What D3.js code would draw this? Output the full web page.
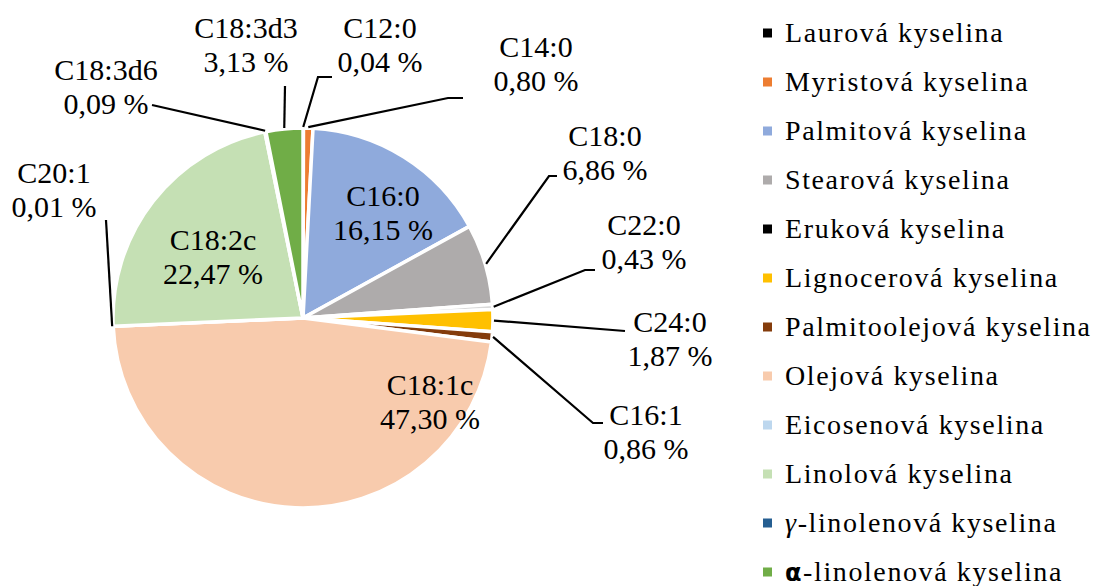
<!DOCTYPE html>
<html>
<head>
<meta charset="utf-8">
<script src="https://cdn.jsdelivr.net/npm/d3@7"></script>
<style>
  body { margin: 0; background: #fff; }
  svg { display: block; }
  text { font-family: "Liberation Serif", "Times New Roman", serif; fill: #000; }
</style>
</head>
<body>
<svg id="chart" width="1094" height="586"></svg>
<script>
// fatty acid composition (% of total)
const acids = ["Laurová kyselina", "Myristová kyselina", "Palmitová kyselina", "Stearová kyselina",
  "Eruková kyselina", "Lignocerová kyselina", "Palmitoolejová kyselina", "Olejová kyselina",
  "Eicosenová kyselina", "Linolová kyselina", "γ-linolenová kyselina", "α-linolenová kyselina"];
const codes = ["C12:0", "C14:0", "C16:0", "C18:0", "C22:0", "C24:0", "C16:1", "C18:1c",
  "C20:1", "C18:2c", "C18:3d6", "C18:3d3"];
const shares = [0.04, 0.80, 16.15, 6.86, 0.43, 1.87, 0.86, 47.30, 0.01, 22.47, 0.09, 3.13];

const legendColors = ["#000000", "#ed7d31", "#8faadc", "#aeabab", "#000000", "#ffc000",
  "#843c0c", "#f8cbad", "#bdd7ee", "#c5e0b4", "#255e91", "#70ad47"];
const sliceColors = ["#000000", "#ed7d31", "#8faadc", "#aeabab", "#d9d9d9", "#ffc000",
  "#843c0c", "#f8cbad", "#bdd7ee", "#c5e0b4", "#255e91", "#70ad47"];

// where each data label sits (first line baseline) and the bend of its leader line
const labelLayout = {
  "C12:0":   { x: 380, y: 38,  leader: [[332, 77], [318, 77]] },
  "C14:0":   { x: 536, y: 57,  leader: [[463, 98], [448, 98]] },
  "C16:0":   { x: 383, y: 206 },
  "C18:0":   { x: 605, y: 146, leader: [[557, 176], [549, 176]] },
  "C22:0":   { x: 644, y: 235, leader: [[595, 270], [585, 270]] },
  "C24:0":   { x: 670, y: 332, leader: [[625, 331]] },
  "C16:1":   { x: 646, y: 425, leader: [[603, 423], [593, 423]] },
  "C18:1c":  { x: 430, y: 395 },
  "C20:1":   { x: 54,  y: 183, leader: [[106, 220]] },
  "C18:2c":  { x: 213, y: 250 },
  "C18:3d6": { x: 106, y: 80,  leader: [[152, 105]] },
  "C18:3d3": { x: 246, y: 38,  leader: [[285, 86]] }
};

const cx = 303, cy = 318, radius = 190;
const svg = d3.select("#chart");

const pie = d3.pie().value(d => d.value).sort(null);
const arc = d3.arc().innerRadius(0).outerRadius(radius);
const rim = d3.arc().innerRadius(radius + 1).outerRadius(radius + 1);
const slices = pie(codes.map((c, i) => ({ code: c, value: shares[i], i: i })));

const g = svg.append("g").attr("transform", `translate(${cx},${cy})`);
g.selectAll("path.slice")
  .data(slices)
  .join("path")
  .attr("class", "slice")
  .attr("d", arc)
  .attr("fill", d => sliceColors[d.data.i])
  .attr("stroke", "#fff")
  .attr("stroke-width", 3.5)
  .attr("stroke-linejoin", "round");

const fmt = v => d3.format(".2f")(v).replace(".", ",") + " %";

// leader lines
const line = d3.line();
svg.selectAll("path.leader")
  .data(slices.filter(d => labelLayout[d.data.code].leader))
  .join("path")
  .attr("class", "leader")
  .attr("fill", "none")
  .attr("stroke", "#000")
  .attr("stroke-width", 2.2)
  .attr("d", d => {
    const [px, py] = rim.centroid(d);
    return line(labelLayout[d.data.code].leader.concat([[cx + px, cy + py]]));
  });

// data labels
const lbl = svg.selectAll("text.lbl")
  .data(slices)
  .join("text")
  .attr("class", "lbl")
  .attr("text-anchor", "middle")
  .style("font-size", "30px")
  .attr("transform", d => `translate(${labelLayout[d.data.code].x},${labelLayout[d.data.code].y})`);
lbl.append("tspan").attr("x", 0).attr("y", 0).text(d => d.data.code);
lbl.append("tspan").attr("x", 0).attr("y", 34).text(d => fmt(d.data.value));

// legend
const legend = svg.append("g").attr("transform", "translate(763,33)");
const rows = legend.selectAll("g.row")
  .data(acids)
  .join("g")
  .attr("class", "row")
  .attr("transform", (d, i) => `translate(0,${i * 49})`);
rows.append("rect")
  .attr("x", 0).attr("y", -4.5)
  .attr("width", 9).attr("height", 9)
  .attr("fill", (d, i) => legendColors[i]);
const lt = rows.append("text")
  .attr("x", 22).attr("y", 9)
  .style("font-size", "28px")
  .style("letter-spacing", "1.6px");
lt.each(function(d) {
  const t = d3.select(this);
  if (d.startsWith("γ")) {
    t.append("tspan").style("font-style", "italic").text("γ");
    t.append("tspan").text(d.slice(1));
  } else if (d.startsWith("α")) {
    t.append("tspan").style("font-weight", "bold").style("font-family", "'DejaVu Sans', sans-serif").style("font-size", "24px").text("α");
    t.append("tspan").text(d.slice(1));
  } else {
    t.text(d);
  }
});
</script>
</body>
</html>
